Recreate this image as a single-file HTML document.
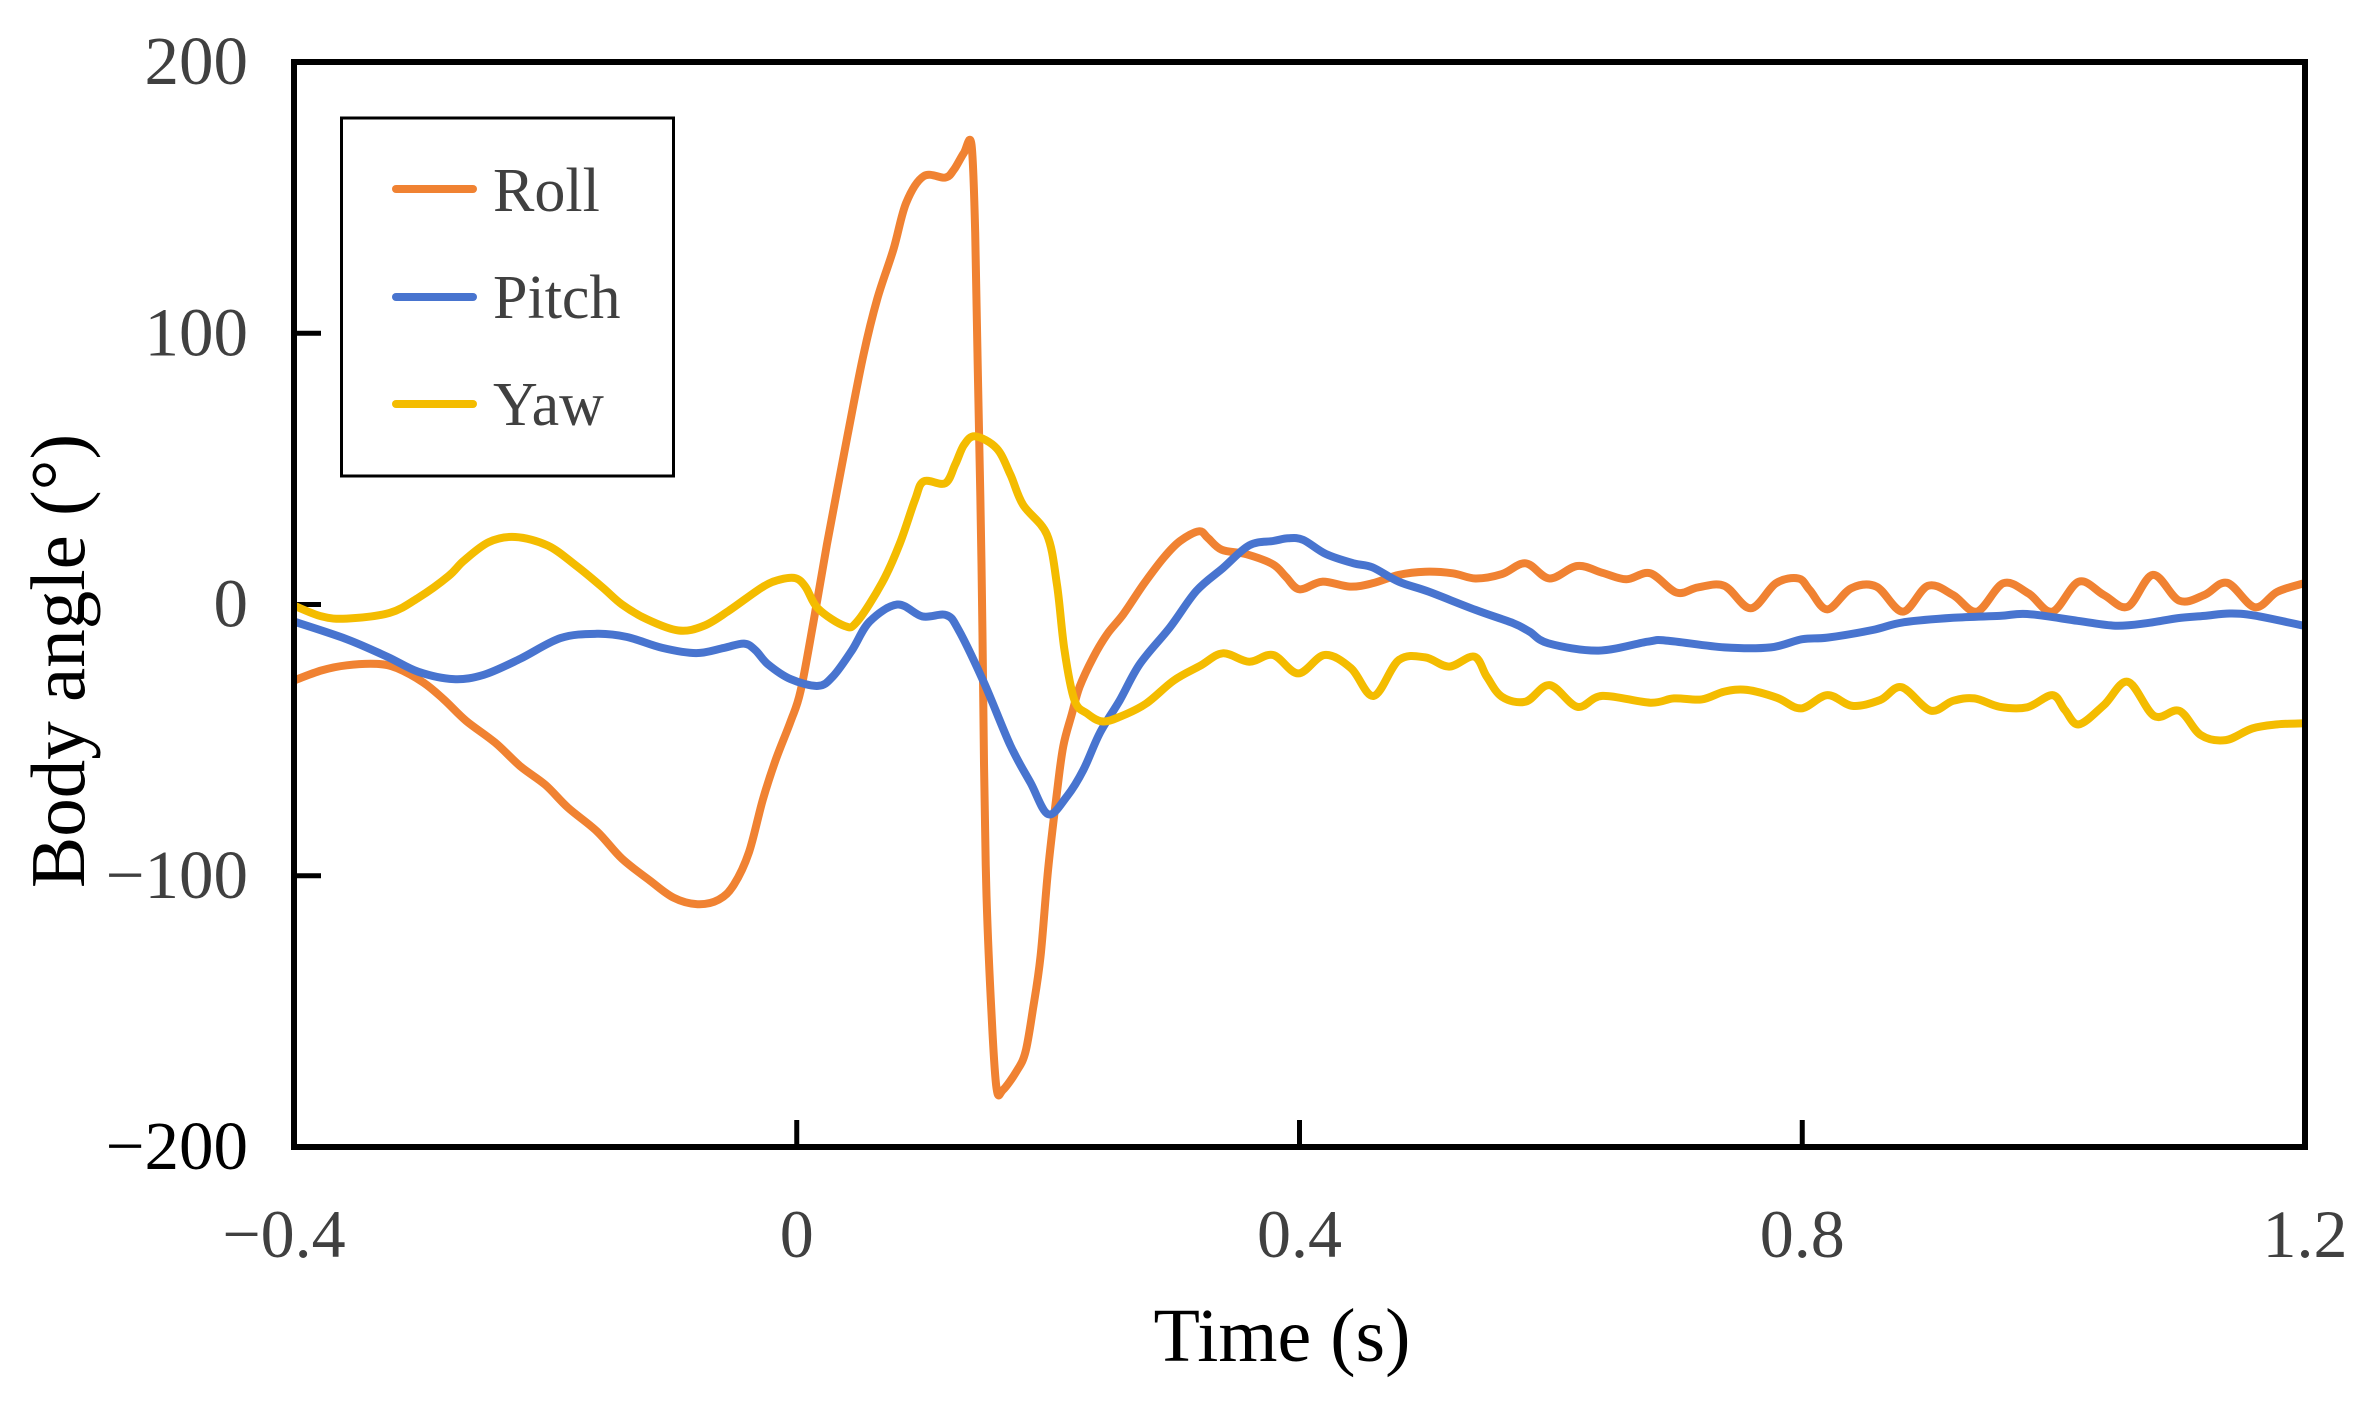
<!DOCTYPE html>
<html lang="en">
<head>
<meta charset="utf-8">
<title>Body angle over time</title>
<style>
html,body{margin:0;padding:0;background:#fff;}
svg{display:block;}
text{font-family:"Liberation Serif",serif;}
</style>
</head>
<body>
<svg id="chart" xmlns="http://www.w3.org/2000/svg" width="2366" height="1403" viewBox="0 0 2366 1403">
  <rect x="0" y="0" width="2366" height="1403" fill="#ffffff"/>
  <g id="axes"></g>
  <g id="series"></g>
  <rect x="294" y="62" width="2011" height="1085" fill="none" stroke="#000" stroke-width="6"/>
  <g>
    <rect x="341.5" y="118" width="332" height="358" fill="#fff" stroke="#000" stroke-width="3"/>
    <line x1="396" y1="189" x2="473" y2="189" stroke="#F08232" stroke-width="8" stroke-linecap="round"/>
    <text x="493" y="211" font-size="62" fill="#404040">Roll</text>
    <line x1="396" y1="297" x2="473" y2="297" stroke="#4874CF" stroke-width="8" stroke-linecap="round"/>
    <text x="493" y="318" font-size="62" fill="#404040">Pitch</text>
    <line x1="396" y1="404" x2="473" y2="404" stroke="#F4BC00" stroke-width="8" stroke-linecap="round"/>
    <text x="493" y="425" font-size="62" fill="#404040">Yaw</text>
  </g>
  <text x="1282" y="1361" font-size="76" text-anchor="middle" fill="#000">Time (s)</text>
  <text transform="translate(84,661) rotate(-90)" font-size="77" text-anchor="middle" fill="#000">Body angle (°)</text>
</svg>
<script>
const xTicks = [-0.4, 0, 0.4, 0.8, 1.2];
const xTickLabels = ['\u22120.4', '0', '0.4', '0.8', '1.2'];
const yTicks = [200, 100, 0, -100, -200];
const yTickLabels = ['200', '100', '0', '\u2212100', '\u2212200'];

const rollTime = [-0.4,-0.378,-0.358,-0.334,-0.318,-0.297,-0.281,-0.263,-0.24,-0.22,-0.2,-0.182,-0.159,-0.139,-0.117,-0.098,-0.079,-0.062,-0.05,-0.038,-0.027,-0.017,-0.005,0.003,0.013,0.024,0.04,0.053,0.064,0.077,0.087,0.101,0.118,0.125,0.133,0.139,0.142,0.144,0.147,0.149,0.151,0.155,0.159,0.164,0.175,0.182,0.188,0.194,0.2,0.207,0.212,0.219,0.225,0.236,0.247,0.26,0.276,0.292,0.305,0.32,0.327,0.338,0.358,0.379,0.389,0.4,0.418,0.44,0.458,0.479,0.5,0.522,0.54,0.561,0.58,0.599,0.621,0.641,0.66,0.679,0.7,0.717,0.738,0.759,0.779,0.797,0.806,0.82,0.839,0.859,0.88,0.9,0.92,0.939,0.96,0.98,0.999,1.02,1.04,1.059,1.079,1.1,1.12,1.138,1.16,1.178,1.199];
const rollAngle = [-28,-24.3,-22.4,-21.9,-23.5,-28.8,-34.9,-42.9,-50.9,-59.6,-66.5,-74.9,-83.6,-93.7,-101.7,-108.1,-110.5,-108.8,-103.3,-91.3,-72,-57.6,-43.2,-32,-7.2,22.1,61.3,91.9,112.6,131,148,157.9,157.4,160.3,166.5,169.5,137,88.2,14.8,-58.5,-107.4,-151.4,-178.5,-179,-172,-164.9,-149,-129.5,-97.7,-69.5,-52.4,-40.2,-30.4,-19.4,-10.9,-3.5,7.5,17.3,23.4,27,24.6,20.2,18.5,14.8,10.3,5.6,8.4,6.6,7.8,10.9,12.1,11.5,9.6,11.2,15.2,9.6,14.2,11.7,9.3,11.5,4.4,6.3,6.9,-1.4,7.8,9.6,5.3,-1.8,6,6.6,-2.6,6.9,3.5,-2.6,7.8,4.1,-2.6,8.4,3.5,-0.8,10.9,1.4,3.5,8,-1,4.7,7.8];

const pitchTime = [-0.4,-0.358,-0.326,-0.301,-0.273,-0.249,-0.22,-0.188,-0.159,-0.135,-0.107,-0.08,-0.058,-0.042,-0.033,-0.023,-0.005,0.017,0.029,0.044,0.058,0.08,0.1,0.119,0.129,0.149,0.17,0.186,0.2,0.215,0.228,0.241,0.257,0.273,0.297,0.318,0.339,0.36,0.379,0.391,0.403,0.421,0.443,0.458,0.479,0.503,0.54,0.57,0.583,0.598,0.638,0.677,0.692,0.738,0.775,0.8,0.82,0.856,0.88,0.92,0.957,0.979,1.019,1.049,1.074,1.099,1.12,1.14,1.16,1.199];
const pitchAngle = [-6.3,-12.8,-19.2,-24.8,-27.5,-25.9,-20,-12.4,-10.8,-12,-16,-17.9,-16,-14.4,-16.8,-22,-27.5,-30,-26.4,-16.8,-6.3,0,-4.4,-3.9,-9.6,-28.8,-52,-65.7,-77.3,-70.7,-61,-47.5,-35.3,-21.9,-8.4,5,13.4,21.8,23.4,24.4,23.8,18.6,15.2,13.7,8.4,4.7,-2,-6.9,-10,-14.3,-17,-13.7,-13.3,-15.8,-15.8,-12.8,-12.2,-9.4,-6.6,-4.9,-4.2,-3.5,-6,-7.8,-6.9,-5,-4.2,-3.3,-4.1,-7.8];

const yawTime = [-0.4,-0.378,-0.358,-0.324,-0.301,-0.277,-0.265,-0.245,-0.224,-0.198,-0.176,-0.155,-0.139,-0.119,-0.094,-0.074,-0.054,-0.027,-0.013,-0.001,0.007,0.017,0.038,0.048,0.068,0.082,0.094,0.101,0.118,0.126,0.133,0.142,0.159,0.17,0.18,0.199,0.207,0.213,0.221,0.231,0.243,0.257,0.278,0.3,0.321,0.339,0.36,0.379,0.399,0.42,0.441,0.459,0.479,0.5,0.519,0.539,0.549,0.561,0.58,0.599,0.621,0.641,0.679,0.698,0.72,0.738,0.756,0.78,0.799,0.82,0.84,0.862,0.879,0.902,0.92,0.937,0.957,0.979,0.999,1.009,1.02,1.04,1.059,1.08,1.1,1.117,1.137,1.158,1.178,1.199];
const yawAngle = [-0.4,-4.4,-5.2,-3.1,2.5,10.5,16.1,23,24.9,21.7,14.5,6.5,0,-5.5,-9.6,-7.9,-2.3,6.5,9.2,9.7,6.5,-1.5,-7.9,-6.3,8.1,22.5,38.5,45.4,44.7,51.5,58.8,62,57.6,47.9,36.8,25.8,7.5,-16.9,-35.3,-40.2,-43.1,-41.4,-36.5,-28,-22.6,-18,-21.1,-18.6,-25.4,-18.6,-23.5,-33.7,-20.5,-19.5,-22.9,-19.2,-26.6,-34,-35.8,-29.7,-37.7,-33.7,-36.2,-34.6,-35,-32.1,-31.5,-34.4,-38.3,-33.4,-37.4,-35.2,-30.5,-39.1,-35.5,-34.6,-37.7,-37.9,-33.4,-38.9,-44.2,-37.1,-28.5,-41.1,-39.2,-48.1,-50,-45.7,-44.2,-43.8];

const SVG_NS = 'http://www.w3.org/2000/svg';
const plotLeft = 294, plotRight = 2305, plotTop = 62, plotBottom = 1147;
const tMin = -0.4, tMax = 1.2, vMin = -200, vMax = 200;

function sx(t) { return plotLeft + (t - tMin) / (tMax - tMin) * (plotRight - plotLeft); }
function sy(v) { return plotBottom - (v - vMin) / (vMax - vMin) * (plotBottom - plotTop); }

function smoothPath(times, values) {
  const pts = times.map((t, i) => [sx(t), sy(values[i])]);
  let d = 'M' + pts[0][0].toFixed(1) + ' ' + pts[0][1].toFixed(1);
  for (let i = 0; i < pts.length - 1; i++) {
    const p0 = pts[Math.max(0, i - 1)], p1 = pts[i], p2 = pts[i + 1], p3 = pts[Math.min(pts.length - 1, i + 2)];
    const c1x = p1[0] + (p2[0] - p0[0]) / 6, c1y = p1[1] + (p2[1] - p0[1]) / 6;
    const c2x = p2[0] - (p3[0] - p1[0]) / 6, c2y = p2[1] - (p3[1] - p1[1]) / 6;
    d += 'C' + c1x.toFixed(1) + ' ' + c1y.toFixed(1) + ' ' + c2x.toFixed(1) + ' ' + c2y.toFixed(1) + ' ' + p2[0].toFixed(1) + ' ' + p2[1].toFixed(1);
  }
  return d;
}

const axesGroup = document.getElementById('axes');
const seriesGroup = document.getElementById('series');

xTicks.forEach((t, i) => {
  if (i > 0 && i < xTicks.length - 1) {
    const tick = document.createElementNS(SVG_NS, 'line');
    
    
    tick.setAttribute('x1', sx(t));
    tick.setAttribute('x2', sx(t));
    tick.setAttribute('y1', plotBottom);
    tick.setAttribute('y2', plotBottom - 27);
    tick.setAttribute('stroke', '#000');
    tick.setAttribute('stroke-width', '5');
    axesGroup.appendChild(tick);
  }
  const label = document.createElementNS(SVG_NS, 'text');
  
  
  label.setAttribute('x', sx(t) - (i === 0 ? 10 : 0));
  label.setAttribute('y', 1257);
  label.setAttribute('font-size', '68');
  label.setAttribute('text-anchor', 'middle');
  label.setAttribute('fill', '#404040');
  label.textContent = xTickLabels[i];
  axesGroup.appendChild(label);
});

yTicks.forEach((v, i) => {
  if (i > 0 && i < yTicks.length - 1) {
    const tick = document.createElementNS(SVG_NS, 'line');
    
    
    tick.setAttribute('x1', plotLeft);
    tick.setAttribute('x2', plotLeft + 27);
    tick.setAttribute('y1', sy(v));
    tick.setAttribute('y2', sy(v));
    tick.setAttribute('stroke', '#000');
    tick.setAttribute('stroke-width', '5');
    axesGroup.appendChild(tick);
  }
  const label = document.createElementNS(SVG_NS, 'text');
  
  
  label.setAttribute('x', 248);
  label.setAttribute('y', sy(v) + 22);
  label.setAttribute('font-size', '69');
  label.setAttribute('text-anchor', 'end');
  label.setAttribute('fill', v === -200 ? '#000000' : '#404040');
  label.textContent = yTickLabels[i];
  axesGroup.appendChild(label);
});

const rollLine = document.createElementNS(SVG_NS, 'path');


rollLine.setAttribute('d', smoothPath(rollTime, rollAngle));
rollLine.setAttribute('fill', 'none');
rollLine.setAttribute('stroke', '#F08232');
rollLine.setAttribute('stroke-width', '8');
rollLine.setAttribute('stroke-linejoin', 'round');
seriesGroup.appendChild(rollLine);

const pitchLine = document.createElementNS(SVG_NS, 'path');


pitchLine.setAttribute('d', smoothPath(pitchTime, pitchAngle));
pitchLine.setAttribute('fill', 'none');
pitchLine.setAttribute('stroke', '#4874CF');
pitchLine.setAttribute('stroke-width', '8');
pitchLine.setAttribute('stroke-linejoin', 'round');
seriesGroup.appendChild(pitchLine);

const yawLine = document.createElementNS(SVG_NS, 'path');


yawLine.setAttribute('d', smoothPath(yawTime, yawAngle));
yawLine.setAttribute('fill', 'none');
yawLine.setAttribute('stroke', '#F4BC00');
yawLine.setAttribute('stroke-width', '8');
yawLine.setAttribute('stroke-linejoin', 'round');
seriesGroup.appendChild(yawLine);
</script>
</body>
</html>
